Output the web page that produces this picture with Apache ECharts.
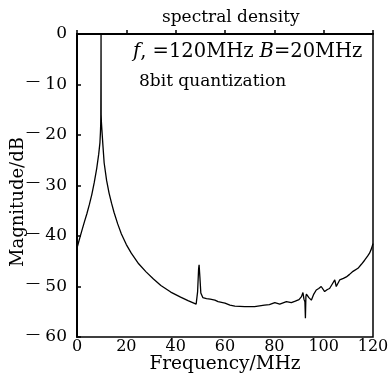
<!DOCTYPE html>
<html>
<head>
<meta charset="utf-8">
<script src="https://cdn.jsdelivr.net/npm/echarts@6/dist/echarts.min.js"></script>
<style>html,body{margin:0;padding:0;background:#fff}#c{width:390px;height:382px}</style>
</head>
<body>
<div id="c"></div>
<script>
var freqMHz = [0,1,2,3,4,5,6,7,8,8.8,9.3,9.5,9.6,9.65,9.7,9.75,9.8,9.9,10.1,10.5,11,12,13,14,15,16.5,18,20,22,25,28,31,34,38,42,45,48.3,48.9,49.3,49.5,49.8,50.2,51,52.5,54,55.9,57.2,58,60,62,64,68,72,76,78,80.2,82.2,84.9,86.9,88.5,90,91,91.6,92,92.4,92.6,92.8,93,94,95,96,97,98,99,100.4,101.5,102.4,103.5,104.5,105.1,106.5,108,109.2,110.5,111.9,113.9,115.3,116.6,117.8,118.6,119.3,120];
var magnitudeDb = [-42.4,-40.6,-38.9,-37.2,-35.6,-33.8,-31.8,-29.4,-26.6,-23.8,-21.5,-19.5,-18,-16.5,-10,0,-16,-17.5,-19,-22,-25.5,-29,-31.5,-33.5,-35.3,-37.6,-39.6,-41.7,-43.4,-45.5,-47.1,-48.5,-49.8,-51.1,-52.1,-52.8,-53.5,-51,-46.5,-45.7,-48,-51.3,-52.2,-52.4,-52.5,-52.7,-53,-52.8,-53.3,-53.7,-53.9,-54,-54,-53.7,-53.6,-53.2,-53.5,-53,-53.2,-52.9,-52.6,-52,-51.2,-52.5,-53,-56.3,-52,-51.5,-52.2,-52.7,-51.5,-50.7,-50.4,-50,-51,-50.6,-50.4,-49.5,-48.7,-50,-48.7,-48.4,-48.1,-47.6,-47,-46.4,-45.6,-44.8,-44,-43.4,-42.6,-41.5];
var xTicks = [0,20,40,60,80,100,120];
var yTicks = [0,-10,-20,-30,-40,-50,-60];
var titleText = 'spectral density';
var noteLine2 = '8bit quantization';
var yName = 'Magnitude/dB';

var serif = '"DejaVu Serif", "Liberation Serif", serif';
var data = freqMHz.map(function (f, i) { return [f, magnitudeDb[i]]; });
var chart = echarts.init(document.getElementById('c'), null, {renderer: 'canvas'});
chart.setOption({
  animation: false,
  backgroundColor: '#fff',
  grid: {left: 77, top: 34, width: 296, height: 303, show: true, borderColor: '#000', borderWidth: 1.5,
         containLabel: false, outerBoundsMode: 'none'},
  xAxis: {
    type: 'value', min: xTicks[0], max: xTicks[xTicks.length-1], interval: 20,
    name: 'Frequency/MHz', nameLocation: 'middle', nameGap: 18, nameMoveOverlap: false,
    nameTextStyle: {fontFamily: serif, fontSize: 18.5, color: '#000'},
    axisLine: {show: true, lineStyle: {color: '#000', width: 2}},
    axisTick: {show: true, inside: true, length: 4, lineStyle: {color: '#000', width: 1.5}},
    axisLabel: {fontFamily: serif, fontSize: 16, color: '#000', margin: 2},
    splitLine: {show: false}
  },
  yAxis: {
    type: 'value', min: yTicks[yTicks.length-1], max: yTicks[0], interval: 10,
    axisLine: {show: true, lineStyle: {color: '#000', width: 2}},
    axisTick: {show: true, inside: true, length: 4, lineStyle: {color: '#000', width: 1.5}},
    axisLabel: {fontFamily: serif, fontSize: 17, color: '#000', margin: 10,
      formatter: function (v) { return v < 0 ? '{m|\u2014}{n| ' + (-v) + '}' : '{n|' + v + '}'; },
      rich: {m: {fontFamily: serif, fontSize: 14, color: '#000', padding: [0, 0, 6, 0]},
             n: {fontFamily: serif, fontSize: 17, color: '#000'}}},
    splitLine: {show: false}
  },
  graphic: [
    {type: 'text', left: 162, top: 9, style: {text: titleText, font: '17px ' + serif, fill: '#000'}},
    {type: 'text', left: 133, top: 42, style: {
      text: '{i|f}{t|, =120MHz }{i|B}{t|=20MHz}',
      rich: {i: {fontFamily: serif, fontStyle: 'italic', fontSize: 19.5, fill: '#000'}, t: {fontFamily: serif, fontSize: 19.5, fill: '#000'}},
      fill: '#000'}},
    {type: 'text', left: 139, top: 73, style: {text: noteLine2, font: '17px ' + serif, fill: '#000'}},
    {type: 'text', x: 18, y: 202, rotation: Math.PI / 2,
      style: {text: yName, font: '18px ' + serif, fill: '#000', align: 'center', verticalAlign: 'middle'}}
  ],
  series: [{
    type: 'line', data: data, showSymbol: false, clip: true,
    lineStyle: {color: '#000', width: 1.3}
  }]
});
</script>
</body>
</html>
